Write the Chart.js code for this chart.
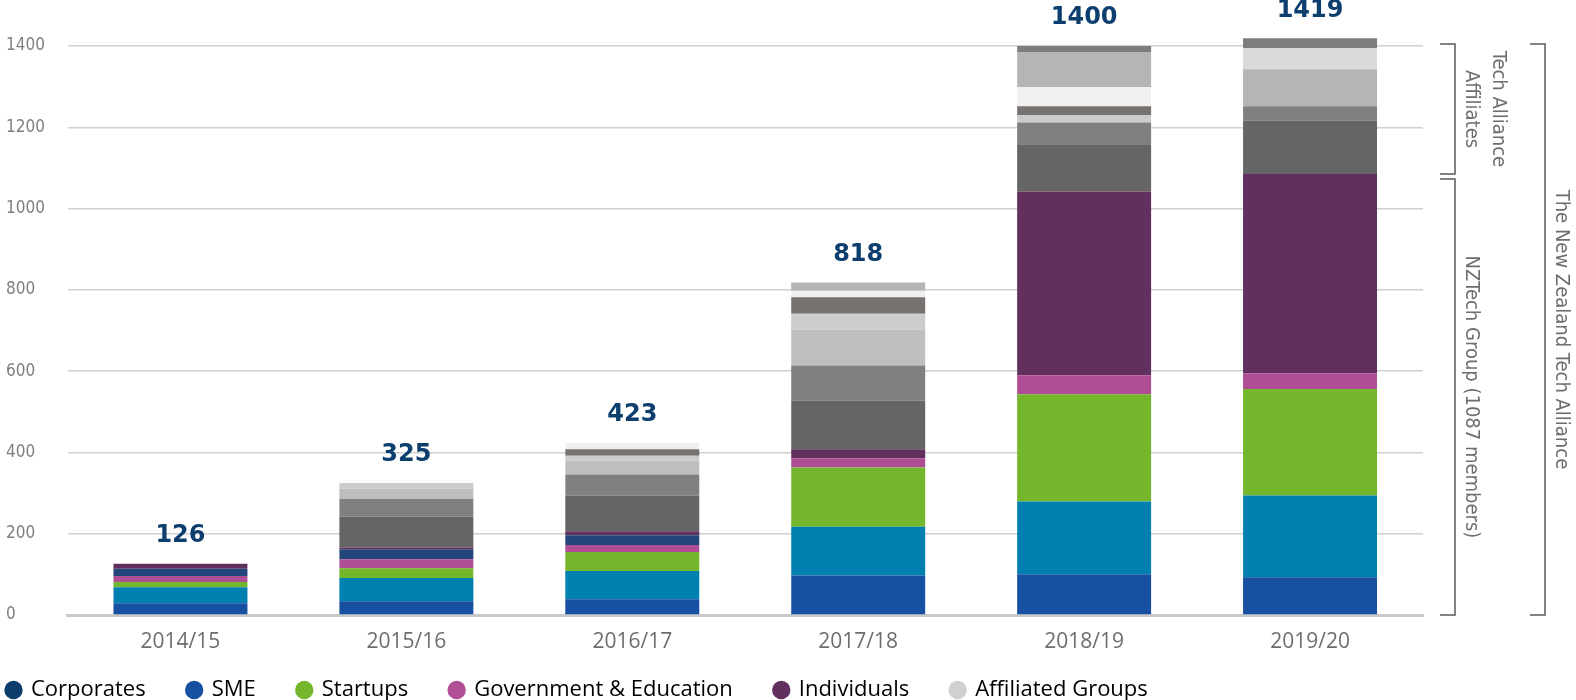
<!DOCTYPE html>
<html>
<head>
<meta charset="utf-8">
<script src="https://cdn.jsdelivr.net/npm/chart.js@4.4.1/dist/chart.umd.min.js"></script>
<style>
  html, body { margin: 0; padding: 0; background: #ffffff; }
  #wrap { width: 1576px; height: 700px; position: relative; }
</style>
</head>
<body>
<div id="wrap"><canvas id="membersChart"></canvas></div>
<script>
const years = ['2014/15', '2015/16', '2016/17', '2017/18', '2018/19', '2019/20'];
const totals = [126, 325, 423, 818, 1400, 1419];

// NZTech Group segments (bottom to top)
const sme = [29, 34, 39, 97, 100, 93];
const smeOther = [39, 57, 69, 120, 179, 201];
const startups = [13, 24, 47, 146, 264, 262];
const govEdu = [15, 22, 17, 22, 47, 39];
const corporates = [18, 25, 24, 0, 0, 0];
const individuals = [12, 4, 10, 23, 452, 490];

// Tech Alliance affiliated groups, one shade each
const affDark = [0, 76, 88, 120, 116, 132];
const affMid = [0, 44, 52, 86, 54, 35];
const affLight = [0, 25, 34, 88, 0, 0];
const affLighter = [0, 14, 12, 39, 18, 0];
const affBrown = [0, 0, 16, 41, 22, 0];
const affPale = [0, 0, 15, 16, 47, 0];
const affSilver = [0, 0, 0, 20, 86, 91];
const affMist = [0, 0, 0, 0, 0, 52];
const affSlate = [0, 0, 0, 0, 15, 24];

const legendNames = ['Corporates', 'SME', 'Startups', 'Government & Education', 'Individuals', 'Affiliated Groups'];
const legendColors = ['#0d3d6b', '#1750a0', '#74b62c', '#b04e96', '#62305e', '#d0d0d0'];

const narrowFont = '"Liberation Sans Narrow", "DejaVu Sans Condensed", sans-serif';

const series = [
  ['SME', sme, '#1750a0'],
  ['SME (other)', smeOther, '#0080b0'],
  ['Startups', startups, '#74b62c'],
  ['Government & Education', govEdu, '#b04e95'],
  ['Corporates', corporates, '#22457a'],
  ['Individuals', individuals, '#62305e'],
  ['Affiliated Groups', affDark, '#656565'],
  ['Affiliated Groups', affMid, '#7f807f'],
  ['Affiliated Groups', affLight, '#bebebe'],
  ['Affiliated Groups', affLighter, '#cdcccc'],
  ['Affiliated Groups', affBrown, '#767270'],
  ['Affiliated Groups', affPale, '#f0f0f0'],
  ['Affiliated Groups', affSilver, '#b5b5b5'],
  ['Affiliated Groups', affMist, '#d9dbd9'],
  ['Affiliated Groups', affSlate, '#7d7d7d'],
];

const datasets = series.map(([label, data, color]) => ({
  label: label,
  data: data,
  backgroundColor: color,
  borderWidth: 0,
  barPercentage: 0.593,
  categoryPercentage: 1,
  clip: false,
}));

// totals above each bar
const totalLabels = {
  id: 'totalLabels',
  afterDatasetsDraw(chart) {
    const { ctx, scales } = chart;
    ctx.save();
    ctx.fillStyle = '#0d3f6e';
    ctx.font = 'bold 24px "DejaVu Sans"';
    ctx.textAlign = 'center';
    ctx.textBaseline = 'middle';
    totals.forEach((t, i) => {
      const x = scales.x.getPixelForValue(i);
      const y = scales.y.getPixelForValue(t) - 28;
      ctx.fillText(String(t), x, y);
    });
    ctx.restore();
  },
};

// group brackets on the right
const brackets = [
  { from: 1085, to: 1405, offset: 32, text: ['Tech Alliance', 'Affiliates'], textOffset: [75, 48] },
  { from: 0, to: 1073, offset: 32, text: ['NZTech Group (1087 members)'], textOffset: [48] },
  { from: 0, to: 1405, offset: 122, text: ['The New Zealand Tech Alliance'], textOffset: [138] },
];

const groupBrackets = {
  id: 'groupBrackets',
  afterDraw(chart) {
    const { ctx, scales, chartArea } = chart;
    ctx.save();
    ctx.strokeStyle = '#58595b';
    ctx.lineWidth = 1.5;
    ctx.fillStyle = '#6d6e70';
    ctx.font = '20px ' + narrowFont;
    ctx.textAlign = 'center';
    ctx.textBaseline = 'middle';
    brackets.forEach(b => {
      const x = chartArea.right + b.offset;
      const top = scales.y.getPixelForValue(b.to);
      const bottom = scales.y.getPixelForValue(b.from);
      ctx.beginPath();
      ctx.moveTo(x - 15, top);
      ctx.lineTo(x, top);
      ctx.lineTo(x, bottom);
      ctx.lineTo(x - 15, bottom);
      ctx.stroke();
      const mid = (top + bottom) / 2;
      b.text.forEach((line, i) => {
        ctx.save();
        ctx.translate(chartArea.right + b.textOffset[i], mid);
        ctx.rotate(Math.PI / 2);
        ctx.fillText(line, 0, 0);
        ctx.restore();
      });
    });
    ctx.restore();
  },
};

// pull the legend to the left edge and just under the axis labels
const legendShift = {
  id: 'legendShift',
  afterLayout(chart) {
    const lg = chart.legend;
    if (!lg) return;
    lg.left = -35;
    lg.top = chart.chartArea.bottom + 22;
  },
};

const ctx = document.getElementById('membersChart').getContext('2d');

new Chart(ctx, {
  type: 'bar',
  data: { labels: years, datasets: datasets },
  options: {
    responsive: true,
    maintainAspectRatio: false,
    animation: false,
    layout: { padding: { top: 46, right: 153, left: 6, bottom: 0 } },
    scales: {
      x: {
        stacked: true,
        grid: { display: false, drawTicks: false },
        border: { color: '#c9c9c9', width: 3 },
        ticks: {
          color: '#6d6e70',
          padding: 14,
          font: { family: '"Open Sans", sans-serif', size: 21 },
        },
        afterFit: (scale) => { scale.height = 50; },
      },
      y: {
        stacked: true,
        min: 0,
        max: 1400,
        border: { display: false },
        grid: { color: '#d0d0d0', lineWidth: 1.5, drawTicks: false },
        ticks: {
          stepSize: 200,
          color: '#7d7e80',
          padding: 0,
          crossAlign: 'far',
          font: { family: narrowFont, size: 17 },
          callback: (v) => String(v),
        },
        afterFit: (scale) => { scale.width = 61.5; },
      },
    },
    plugins: {
      tooltip: { enabled: false },
      legend: {
        position: 'bottom',
        align: 'start',
        maxHeight: 35,
        onClick: null,
        labels: {
          usePointStyle: true,
          pointStyle: 'circle',
          boxWidth: 13,
          boxHeight: 13,
          padding: 42,
          color: '#58595b',
          font: { family: '"Open Sans", sans-serif', size: 22 },
          generateLabels: () => legendNames.map((name, i) => ({
            text: name,
            fillStyle: legendColors[i],
            strokeStyle: legendColors[i],
            lineWidth: 0,
            pointStyle: 'circle',
            hidden: false,
            datasetIndex: i,
          })),
        },
      },
    },
  },
  plugins: [totalLabels, groupBrackets, legendShift],
});
</script>
</body>
</html>
